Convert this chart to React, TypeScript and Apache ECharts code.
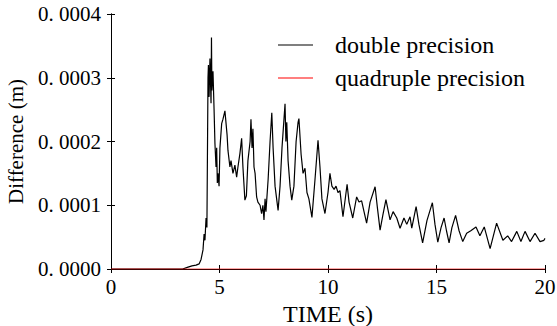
import React, { useEffect, useRef } from "react";
import * as echarts from "echarts";

const FONT = "Liberation Serif";

// time (s)
const timeS = [
  0, 3.3, 3.55, 3.73, 3.92, 4.06, 4.15, 4.24, 4.29, 4.33, 4.38, 4.42, 4.47, 4.49, 4.52, 4.56, 4.61, 4.63, 4.65, 4.7,
  4.75, 4.79, 4.84, 4.87, 4.9, 4.93, 4.98, 5.02, 5.1, 5.16, 5.25, 5.35, 5.39, 5.48, 5.53, 5.62, 5.71, 5.79, 5.85,
  5.94, 6.02, 6.08, 6.17, 6.24, 6.31, 6.41, 6.45, 6.5, 6.54, 6.59, 6.64, 6.71, 6.77, 6.87, 6.94, 7.0, 7.05, 7.1,
  7.14, 7.24, 7.33, 7.41, 7.47, 7.56, 7.7, 7.79, 7.88, 8.02, 8.06, 8.1, 8.16, 8.25, 8.33, 8.43, 8.53, 8.62, 8.66,
  8.76, 8.85, 8.94, 9.03, 9.12, 9.26, 9.4, 9.54, 9.63, 9.72, 9.86, 10.0, 10.09, 10.18, 10.28, 10.37, 10.46, 10.55,
  10.69, 10.88, 10.97, 11.14, 11.32, 11.43, 11.55, 11.66, 11.78, 11.94, 12.17, 12.28, 12.4, 12.53, 12.67, 12.86,
  13.0, 13.17, 13.32, 13.5, 13.63, 13.78, 13.86, 14.06, 14.19, 14.36, 14.56, 14.81, 14.93, 15.06, 15.21, 15.35,
  15.46, 15.58, 15.71, 15.88, 16.04, 16.21, 16.39, 16.58, 16.82, 17.0, 17.2, 17.47, 17.77, 18.06, 18.28, 18.46,
  18.7, 18.89, 19.08, 19.31, 19.54, 19.77, 19.95, 20,
];

// double precision difference, in units of 1e-4 m
const doubleE4 = [
  0, 0, 0.03, 0.05, 0.06, 0.08, 0.15, 0.3, 0.55, 0.45, 0.8, 0.65, 3.0, 3.2, 2.7, 3.3, 2.6, 3.63, 2.8, 3.1,
  2.5, 1.97, 1.6, 1.9, 1.35, 1.5, 1.3, 1.9, 2.28, 2.35, 2.48, 2.1, 1.86, 1.6, 1.7, 1.5, 1.63, 1.44, 1.6,
  1.81, 2.05, 1.6, 1.08, 1.15, 1.7, 2.0, 2.35, 1.9, 2.2, 1.6, 1.5, 1.13, 1.05, 1.0, 0.87, 1.0, 0.77, 1.1,
  0.9, 1.4, 2.0, 2.45, 1.9, 1.3, 0.92, 1.3, 1.9, 2.59, 2.0, 2.3, 1.7, 1.3, 1.08, 1.3, 2.0, 2.3, 2.36,
  1.8, 1.5, 1.58, 1.2, 1.1, 0.81, 1.4, 2.02, 1.6, 1.1, 0.87, 1.2, 1.5, 1.3, 1.25, 1.3, 1.2, 1.23,
  0.82, 1.33, 1.05, 0.8, 1.13, 1.05, 1.07, 0.9, 0.72, 1.05, 1.29, 0.95, 0.61, 0.85, 1.09, 0.77,
  0.9, 0.8, 0.64, 0.8, 0.7, 0.82, 0.64, 0.98, 0.7, 0.41, 0.76, 1.04, 0.7, 0.42, 0.65, 0.8,
  0.6, 0.41, 0.65, 0.84, 0.6, 0.43, 0.56, 0.6, 0.66, 0.52, 0.66, 0.32, 0.72, 0.45, 0.52, 0.43,
  0.59, 0.43, 0.59, 0.43, 0.56, 0.43, 0.45, 0.48,
];

// quadruple precision difference (m)
const quadTime = [0, 20];
const quadValues = [0, 0];

const yTicks = [0, 0.0001, 0.0002, 0.0003, 0.0004];
const yTickLabels = ["0. 0000", "0. 0001", "0. 0002", "0. 0003", "0. 0004"];

export default function App() {
  const ref = useRef<HTMLDivElement>(null);
  useEffect(() => {
    if (!ref.current) return;
    const chart = echarts.init(ref.current, null, { renderer: "svg" });
    const doubleData = timeS.map((t, i) => [t, doubleE4[i] * 1e-4]);
    const quadData = quadTime.map((t, i) => [t, quadValues[i]]);
    const axisLine = { show: true, lineStyle: { color: "#000", width: 1 } };
    const tick = { show: true, inside: true, length: 4, lineStyle: { color: "#000" } };
    chart.setOption({
      animation: false,
      backgroundColor: "#fff",
      grid: { left: 111, right: 12, top: 14, bottom: 57, containLabel: false, outerBoundsMode: "none" },
      legend: {
        left: 273,
        top: 28,
        orient: "vertical",
        itemWidth: 35,
        itemHeight: 14,
        itemGap: 9,
        icon: "path://M0,6 L35,6 L35,7 L0,7 Z",
        textStyle: { fontFamily: FONT, fontSize: 24, color: "#000", padding: [0, 0, 0, 17] },
        data: [
          { name: "double precision", itemStyle: { color: "#000" } },
          { name: "quadruple precision", itemStyle: { color: "#ff0000" } },
        ],
      },
      xAxis: [
        {
          type: "value",
          min: 0,
          max: 20,
          interval: 5,
          name: "TIME (s)",
          nameLocation: "middle",
          nameGap: 30,
          nameTextStyle: { fontFamily: FONT, fontSize: 24, color: "#000" },
          axisLine,
          axisTick: tick,
          axisLabel: { fontFamily: FONT, fontSize: 21, color: "#000", margin: 7 },
          splitLine: { show: false },
        },
        {
          type: "value",
          position: "top",
          min: 0,
          max: 20,
          interval: 5,
          axisLine,
          axisTick: tick,
          axisLabel: { show: false },
          splitLine: { show: false },
        },
      ],
      yAxis: [
        {
          type: "value",
          min: 0,
          max: 0.0004,
          interval: 0.0001,
          name: "Difference (m)",
          nameLocation: "middle",
          nameGap: 85,
          nameTextStyle: { fontFamily: FONT, fontSize: 21, color: "#000" },
          axisLine,
          axisTick: tick,
          axisLabel: {
            fontFamily: FONT,
            fontSize: 21,
            color: "#000",
            margin: 10,
            formatter: (v: number) => {
              const i = yTicks.findIndex((t) => Math.abs(t - v) < 1e-9);
              return i >= 0 ? yTickLabels[i] : "";
            },
          },
          splitLine: { show: false },
        },
        {
          type: "value",
          position: "right",
          min: 0,
          max: 0.0004,
          interval: 0.0001,
          axisLine,
          axisTick: tick,
          axisLabel: { show: false },
          splitLine: { show: false },
        },
      ],
      series: [
        {
          name: "double precision",
          type: "line",
          data: doubleData,
          showSymbol: false,
          symbol: "none",
          lineStyle: { color: "#000", width: 1.2 },
          itemStyle: { color: "#000" },
        },
        {
          name: "quadruple precision",
          type: "line",
          data: quadData,
          showSymbol: false,
          symbol: "none",
          lineStyle: { color: "#ff0000", width: 1.5, opacity: 0.45 },
          itemStyle: { color: "#ff0000" },
        },
      ],
    });
    return () => chart.dispose();
  }, []);
  return (
    <div
      ref={ref}
      style={{ position: "absolute", left: 0, top: 0, width: 557, height: 326, overflow: "hidden" }}
    />
  );
}
